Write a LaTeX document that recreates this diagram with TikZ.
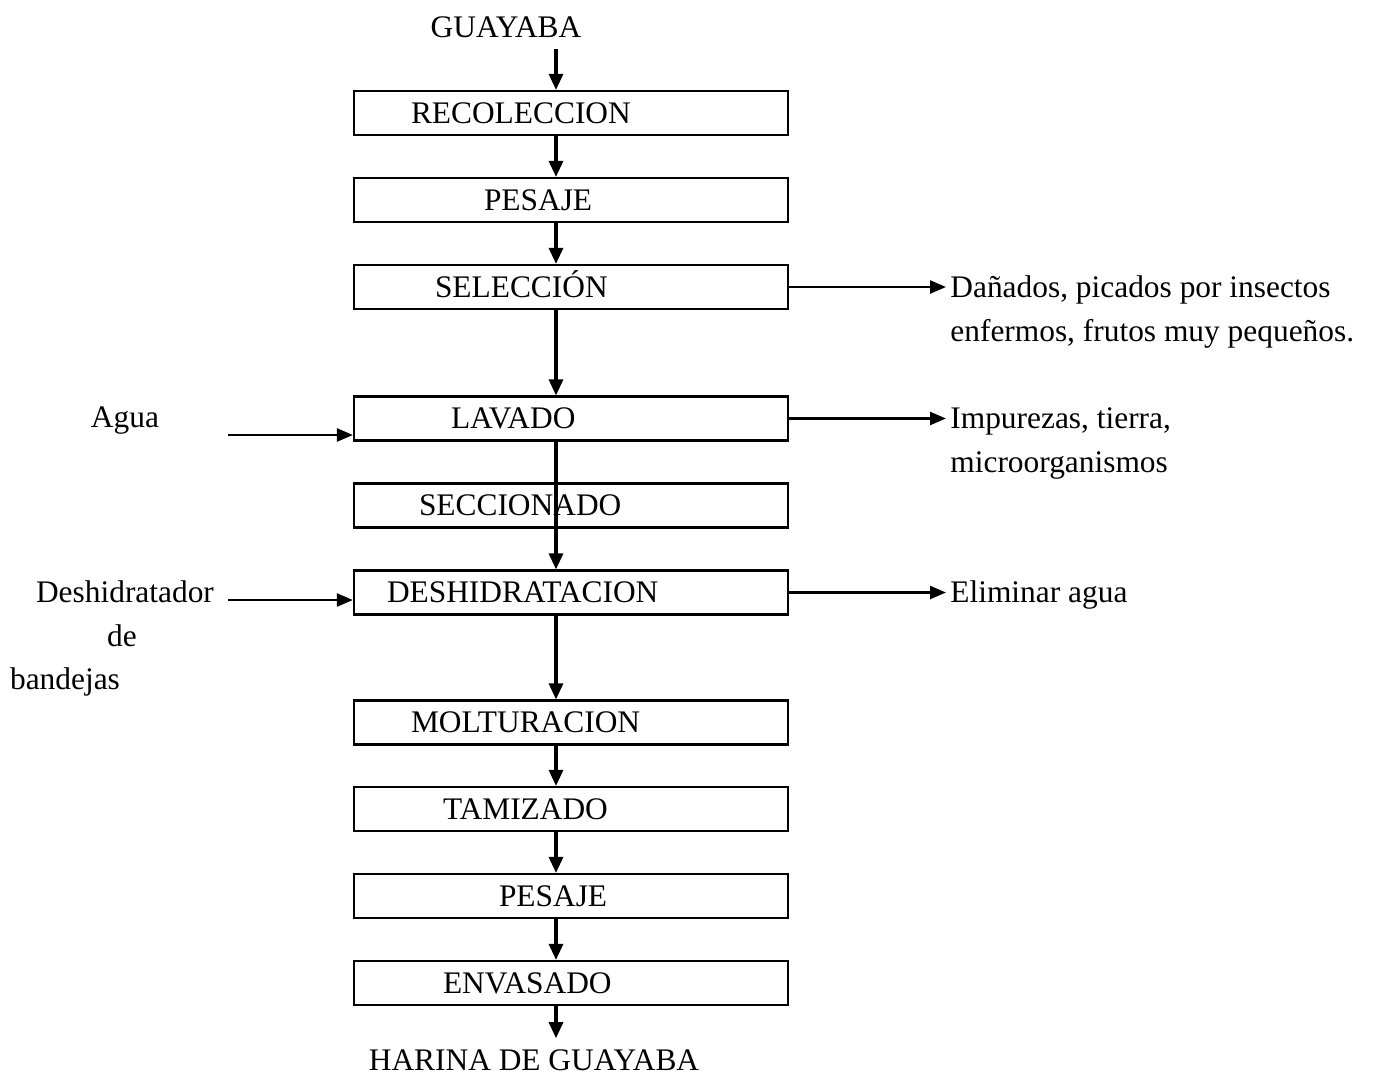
\documentclass[tikz,border=0pt]{standalone}
\usepackage{fontspec}
\setmainfont{Liberation Serif}
\usetikzlibrary{arrows.meta}

\tikzset{
  etapa/.style={draw, line width=1.1pt, inner sep=0pt, minimum height=22pt,
    text width=217pt, align=left, text height=13.9pt, text depth=3.5pt,
    font=\fontsize{15.7}{22}\selectfont},
  texto/.style={inner sep=2pt, text height=13.9pt, text depth=3.5pt,
    font=\fontsize{15.7}{22}\selectfont},
  flujo/.style={line width=1.6pt, -{Triangle[length=8pt,width=7pt]}},
  lateral/.style={line width=1.2pt, -{Triangle[length=8pt,width=6.5pt]}}
}

\begin{document}
\begin{tikzpicture}[x=0.5pt, y=-0.5pt]
    \useasboundingbox (0,0) rectangle (1377,1083);
    \coordinate (eje) at (556,0);
    % etapas del proceso
    \node[texto] (guayaba) at (506,27) {GUAYABA};
    \node[etapa] (recoleccion) at (571,113) {\hspace*{28.5pt}RECOLECCION};
    \node[etapa] (pesajeA) at (571,200) {\hspace*{65pt}PESAJE};
    \node[etapa] (seleccion) at (571,287) {\hspace*{40.5pt}SELECCIÓN};
    \node[etapa] (lavado) at (571,418.5) {\hspace*{48.5pt}LAVADO};
    \node[etapa] (seccionado) at (571,505.5) {\hspace*{32.5pt}SECCIONADO};
    \node[etapa] (deshidratacion) at (571,592.5) {\hspace*{16.5pt}DESHIDRATACION};
    \node[etapa] (molturacion) at (571,722.5) {\hspace*{28.5pt}MOLTURACION};
    \node[etapa] (tamizado) at (571,809) {\hspace*{44.5pt}TAMIZADO};
    \node[etapa] (pesajeB) at (571,896) {\hspace*{72.5pt}PESAJE};
    \node[etapa] (envasado) at (571,983) {\hspace*{44.5pt}ENVASADO};
    \node[texto] (harina) at (534,1060) {HARINA DE GUAYABA};
    % entradas
    \node[texto] (agua) at (125,417) {Agua};
    \coordinate (entAgua) at (228,435);
    \node[texto] (deshA) at (125,592) {Deshidratador};
    \node[texto] (deshB) at (122,636) {de};
    \node[texto] (deshC) at (65,679) {bandejas};
    \coordinate (entDesh) at (228,600);
    % salidas
    \node[texto, anchor=west, align=left, text height=, text depth=] (danados) at (946,312)
        {Dañados, picados por insectos\\enfermos, frutos muy pequeños.};
    \node[texto, anchor=west, align=left, text height=, text depth=] (impurezas) at (946,443)
        {Impurezas, tierra,\\microorganismos};
    \node[texto, anchor=west] (eliminar) at (946,592.5) {Eliminar agua};
    % flujo principal
    \draw[flujo] (guayaba.south -| eje) -- (recoleccion.north -| eje);
    \draw[flujo] (recoleccion.south -| eje) -- (pesajeA.north -| eje);
    \draw[flujo] (pesajeA.south -| eje) -- (seleccion.north -| eje);
    \draw[flujo] (seleccion.south -| eje) -- (lavado.north -| eje);
    \draw[flujo] (lavado.south -| eje) -- (deshidratacion.north -| eje);
    \draw[flujo] (deshidratacion.south -| eje) -- (molturacion.north -| eje);
    \draw[flujo] (molturacion.south -| eje) -- (tamizado.north -| eje);
    \draw[flujo] (tamizado.south -| eje) -- (pesajeB.north -| eje);
    \draw[flujo] (pesajeB.south -| eje) -- (envasado.north -| eje);
    \draw[flujo] (envasado.south -| eje) -- (harina.north -| eje);
    % entradas y salidas
    \draw[lateral] (entAgua) -- (entAgua -| lavado.west);
    \draw[lateral] (entDesh) -- (entDesh -| deshidratacion.west);
    \draw[lateral] (seleccion.east) -- (seleccion.east -| danados.west);
    \draw[lateral] (lavado.east) -- (lavado.east -| impurezas.west);
    \draw[lateral] (deshidratacion.east) -- (deshidratacion.east -| eliminar.west);
\end{tikzpicture}
\end{document}
